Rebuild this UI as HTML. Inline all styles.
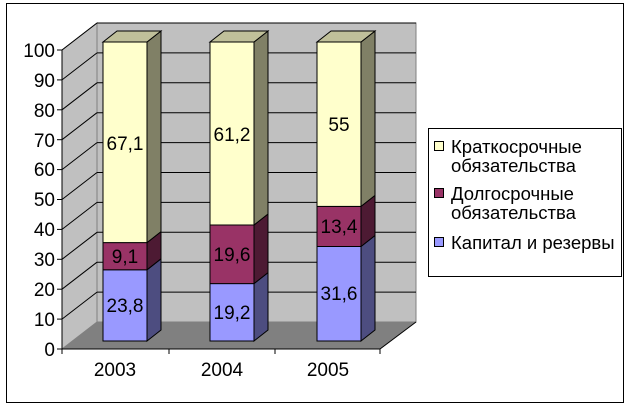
<!DOCTYPE html>
<html><head><meta charset="utf-8"><style>
body{margin:0;background:#fff;}
svg{display:block;font-family:"Liberation Sans",Arial,sans-serif;}
</style></head><body>
<svg width="632" height="408" viewBox="0 0 632 408" xmlns="http://www.w3.org/2000/svg">
<rect x="0" y="0" width="632" height="408" fill="#fff"/>
<rect x="6.5" y="3.5" width="617" height="399" fill="none" stroke="#000"/>
<polygon points="62,50 97,23 97,322 62,349" fill="#c0c0c0" stroke="#808080"/>
<rect x="97" y="23" width="319" height="299" fill="#c0c0c0" stroke="#808080"/>
<polygon points="62,349 97,322 416,322 380,349" fill="#808080"/>
<g stroke="#000" stroke-width="1">
<line x1="62" y1="319.1" x2="97" y2="292.1"/><line x1="97" y1="292.1" x2="416" y2="292.1"/>
<line x1="62" y1="289.2" x2="97" y2="262.2"/><line x1="97" y1="262.2" x2="416" y2="262.2"/>
<line x1="62" y1="259.3" x2="97" y2="232.3"/><line x1="97" y1="232.3" x2="416" y2="232.3"/>
<line x1="62" y1="229.4" x2="97" y2="202.4"/><line x1="97" y1="202.4" x2="416" y2="202.4"/>
<line x1="62" y1="199.5" x2="97" y2="172.5"/><line x1="97" y1="172.5" x2="416" y2="172.5"/>
<line x1="62" y1="169.6" x2="97" y2="142.6"/><line x1="97" y1="142.6" x2="416" y2="142.6"/>
<line x1="62" y1="139.7" x2="97" y2="112.7"/><line x1="97" y1="112.7" x2="416" y2="112.7"/>
<line x1="62" y1="109.8" x2="97" y2="82.8"/><line x1="97" y1="82.8" x2="416" y2="82.8"/>
<line x1="62" y1="79.9" x2="97" y2="52.9"/><line x1="97" y1="52.9" x2="416" y2="52.9"/>
<line x1="62" y1="50" x2="97" y2="23"/><line x1="97" y1="23" x2="416" y2="23"/>
</g>
<line x1="380" y1="349" x2="416" y2="322" stroke="#000"/>
<g stroke="#000" stroke-width="1">
<rect x="103" y="269.8" width="44" height="71.2" fill="#9999ff"/>
<polygon points="147,341 161,330 161,258.8 147,269.8" fill="#4d4d80"/>
<rect x="103" y="242.6" width="44" height="27.2" fill="#993366"/>
<polygon points="147,269.8 161,258.8 161,231.6 147,242.6" fill="#4d1a33"/>
<rect x="103" y="42" width="44" height="200.6" fill="#ffffcc"/>
<polygon points="147,242.6 161,231.6 161,31 147,42" fill="#808066"/>
<polygon points="103,42 117,31 161,31 147,42" fill="#c0c09a"/>
<rect x="210" y="283.6" width="44" height="57.4" fill="#9999ff"/>
<polygon points="254,341 268,330 268,272.6 254,283.6" fill="#4d4d80"/>
<rect x="210" y="225" width="44" height="58.6" fill="#993366"/>
<polygon points="254,283.6 268,272.6 268,214 254,225" fill="#4d1a33"/>
<rect x="210" y="42" width="44" height="183" fill="#ffffcc"/>
<polygon points="254,225 268,214 268,31 254,42" fill="#808066"/>
<polygon points="210,42 224,31 268,31 254,42" fill="#c0c09a"/>
<rect x="317" y="246.5" width="44" height="94.5" fill="#9999ff"/>
<polygon points="361,341 375,330 375,235.5 361,246.5" fill="#4d4d80"/>
<rect x="317" y="206.4" width="44" height="40.1" fill="#993366"/>
<polygon points="361,246.5 375,235.5 375,195.4 361,206.4" fill="#4d1a33"/>
<rect x="317" y="42" width="44" height="164.4" fill="#ffffcc"/>
<polygon points="361,206.4 375,195.4 375,31 361,42" fill="#808066"/>
<polygon points="317,42 331,31 375,31 361,42" fill="#c0c09a"/>
</g>
<g stroke="#000">
<line x1="62" y1="50" x2="62" y2="349"/>
<line x1="62" y1="349" x2="380" y2="349"/>
<line x1="62" y1="349" x2="62" y2="354"/><line x1="169" y1="349" x2="169" y2="354"/>
<line x1="275" y1="349" x2="275" y2="354"/><line x1="380" y1="349" x2="380" y2="354"/>
<line x1="57" y1="349" x2="62" y2="349"/><line x1="57" y1="319.1" x2="62" y2="319.1"/>
<line x1="57" y1="289.2" x2="62" y2="289.2"/><line x1="57" y1="259.3" x2="62" y2="259.3"/>
<line x1="57" y1="229.4" x2="62" y2="229.4"/><line x1="57" y1="199.5" x2="62" y2="199.5"/>
<line x1="57" y1="169.6" x2="62" y2="169.6"/><line x1="57" y1="139.7" x2="62" y2="139.7"/>
<line x1="57" y1="109.8" x2="62" y2="109.8"/><line x1="57" y1="79.9" x2="62" y2="79.9"/>
<line x1="57" y1="50" x2="62" y2="50"/>
</g>
<g font-size="19" text-anchor="end" fill="#000">
<text x="55" y="356">0</text><text x="55" y="326">10</text><text x="55" y="296">20</text>
<text x="55" y="266">30</text><text x="55" y="236">40</text><text x="55" y="206">50</text>
<text x="55" y="176">60</text><text x="55" y="147">70</text><text x="55" y="117">80</text>
<text x="55" y="87">90</text><text x="55" y="57">100</text>
</g>
<g font-size="19" text-anchor="middle" fill="#000">
<text x="115" y="376">2003</text><text x="222" y="376">2004</text><text x="328" y="376">2005</text>
<text x="125" y="312">23,8</text><text x="125" y="263">9,1</text><text x="125" y="150">67,1</text>
<text x="232" y="319">19,2</text><text x="232" y="261">19,6</text><text x="232" y="141">61,2</text>
<text x="339" y="300">31,6</text><text x="339" y="233">13,4</text><text x="339" y="131">55</text>
</g>
<rect x="428.5" y="128.5" width="193" height="148" fill="#fff" stroke="#000"/>
<g stroke="#000">
<rect x="434.5" y="141.5" width="9" height="9" fill="#ffffcc"/>
<rect x="434.5" y="188.5" width="9" height="9" fill="#993366"/>
<rect x="434.5" y="237.5" width="9" height="9" fill="#9999ff"/>
</g>
<g font-size="18.5" fill="#000">
<text x="451" y="153">Краткосрочные</text>
<text x="451" y="172">обязательства</text>
<text x="451" y="200">Долгосрочные</text>
<text x="451" y="219">обязательства</text>
<text x="451" y="249">Капитал и резервы</text>
</g>
</svg>
</body></html>
